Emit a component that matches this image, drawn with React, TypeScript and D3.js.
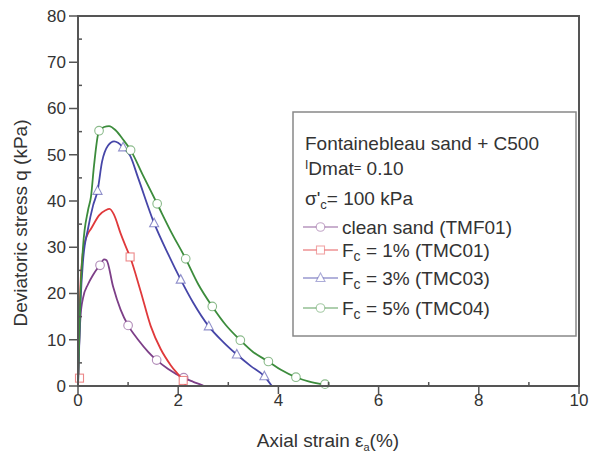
import React from "react";
import * as d3 from "d3";

// ---- data ----
const xTicks = [0, 2, 4, 6, 8, 10];
const xMinor = [1, 3, 5, 7, 9];
const yTicks = [0, 10, 20, 30, 40, 50, 60, 70, 80];
const yMinor = [5, 15, 25, 35, 45, 55, 65, 75];

const cleanSand: [number, number][] = [
  [0, 0], [0.02, 8], [0.05, 15], [0.1, 19], [0.2, 22], [0.3, 24], [0.44, 26.2],
  [0.52, 27.4], [0.57, 27.2], [0.7, 21.5], [0.85, 16.5], [1.0, 13.1], [1.2, 10],
  [1.4, 7.4], [1.57, 5.6], [1.8, 3.7], [2.1, 1.8], [2.3, 0.9], [2.5, 0.1],
];
const cleanSandMarks: [number, number][] = [[0.44, 26.1], [1.0, 13.1], [1.57, 5.6], [2.11, 1.8]];

const fc1: [number, number][] = [
  [0, 0], [0.02, 12], [0.05, 22], [0.1, 29], [0.2, 33], [0.26, 34], [0.42, 36.9],
  [0.55, 38], [0.63, 38.3], [0.72, 37], [0.85, 33], [0.94, 30.5], [1.04, 27.9],
  [1.25, 20.5], [1.45, 13], [1.65, 8], [1.85, 4.5], [2.05, 1.8], [2.15, 0.3],
];
const fc1Marks: [number, number][] = [[0.03, 1.7], [1.04, 27.9], [2.1, 1.2]];

const fc3: [number, number][] = [
  [0, 0], [0.05, 18], [0.1, 27], [0.2, 34], [0.3, 39], [0.39, 42.2], [0.48, 48.5],
  [0.6, 52], [0.72, 52.9], [0.8, 52.6], [0.9, 51.6], [1.04, 49.8], [1.2, 45],
  [1.52, 35.2], [1.8, 28.5], [2.05, 23], [2.3, 18], [2.61, 12.9], [2.9, 9.5],
  [3.17, 6.8], [3.45, 4.3], [3.72, 2.1], [3.87, 0],
];
const fc3Marks: [number, number][] = [[0.39, 42.2], [0.9, 51.6], [1.52, 35.2], [2.05, 23], [2.61, 12.9], [3.17, 6.8], [3.72, 2.1]];

const fc5: [number, number][] = [
  [0, 0], [0.05, 20], [0.1, 30], [0.2, 38], [0.26, 41], [0.32, 47.7], [0.42, 55.2],
  [0.52, 56], [0.62, 56.2], [0.75, 55.3], [0.9, 53.3], [1.05, 51], [1.3, 45.5],
  [1.58, 39.4], [1.85, 33.5], [2.15, 27.5], [2.4, 22], [2.68, 17.2], [2.95, 13.2],
  [3.24, 9.9], [3.5, 7.3], [3.8, 5.3], [4.05, 3.5], [4.35, 1.9], [4.6, 1.0], [4.9, 0.3],
];
const fc5Marks: [number, number][] = [[0.42, 55.2], [1.05, 51], [1.58, 39.4], [2.15, 27.5], [2.68, 17.2], [3.24, 9.9], [3.8, 5.3], [4.35, 1.9], [4.93, 0.4]];

const seriesNames = ["clean sand (TMF01)", "1% (TMC01)", "3% (TMC03)", "5% (TMC04)"];

type Series = { name: string; data: [number, number][]; marks: [number, number][]; color: string; marker: string; fc: boolean };
const series: Series[] = [
  { name: seriesNames[0], data: cleanSand, marks: cleanSandMarks, color: "#7d3f88", marker: "circle", fc: false },
  { name: seriesNames[1], data: fc1, marks: fc1Marks, color: "#e0393b", marker: "square", fc: true },
  { name: seriesNames[2], data: fc3, marks: fc3Marks, color: "#4646a8", marker: "triangle", fc: true },
  { name: seriesNames[3], data: fc5, marks: fc5Marks, color: "#3c8c3c", marker: "circle", fc: true },
];

const FONT = "'Liberation Sans', Arial, sans-serif";

function Marker({ type, cx, cy, color, op = 0.6 }: { type: string; cx: number; cy: number; color: string; op?: number }) {
  const common = { fill: "#fff", stroke: color, strokeWidth: 1.1, strokeOpacity: op };
  if (type === "square") return <rect x={cx - 4} y={cy - 4} width={8} height={8} {...common} />;
  if (type === "triangle") return <path d={`M${cx},${cy - 5}L${cx + 4.5},${cy + 3.5}L${cx - 4.5},${cy + 3.5}Z`} {...common} />;
  return <circle cx={cx} cy={cy} r={4.3} {...common} />;
}

export default function App() {
  const x = d3.scaleLinear().domain([0, 10]).range([78, 579]);
  const y = d3.scaleLinear().domain([0, 80]).range([386, 16]);
  const line = d3.line<[number, number]>().x((d) => x(d[0])).y((d) => y(d[1])).curve(d3.curveMonotoneX);
  const axisColor = "#555";

  const legendRows = [234, 257, 285, 315];

  return (
    <svg width={590} height={455} style={{ position: "absolute", left: 0, top: 0, background: "#fff" }} fontFamily={FONT}>
      <rect x={0} y={0} width={590} height={455} fill="#fff" />
      {/* curves */}
      {series.map((s) => (
        <g key={s.name}>
          <path d={line(s.data) || ""} fill="none" stroke={s.color} strokeWidth={1.8} />
          {s.marks.map((m, i) => (
            <Marker key={i} type={s.marker} cx={x(m[0])} cy={y(m[1])} color={s.color} />
          ))}
        </g>
      ))}
      {/* frame */}
      <rect x={x(0)} y={y(80)} width={x(10) - x(0)} height={y(0) - y(80)} fill="none" stroke={axisColor} strokeWidth={2} />
      {/* y ticks */}
      {yTicks.map((t) => (
        <g key={"y" + t}>
          <line x1={x(0) - 9} x2={x(0)} y1={y(t)} y2={y(t)} stroke={axisColor} strokeWidth={1.5} />
          <text x={x(0) - 12} y={y(t)} dy="0.35em" textAnchor="end" fontSize={17} fill="#333">{t}</text>
        </g>
      ))}
      {yMinor.map((t) => (
        <line key={"ym" + t} x1={x(0)} x2={x(0) + 4} y1={y(t)} y2={y(t)} stroke={axisColor} strokeWidth={1.5} />
      ))}
      {/* x ticks */}
      {xTicks.map((t) => (
        <g key={"x" + t}>
          <line x1={x(t)} x2={x(t)} y1={y(0)} y2={y(0) + 8} stroke={axisColor} strokeWidth={1.5} />
          <text x={x(t)} y={y(0) + 20} textAnchor="middle" fontSize={17} fill="#333">{t}</text>
        </g>
      ))}
      {xMinor.map((t) => (
        <line key={"xm" + t} x1={x(t)} x2={x(t)} y1={y(0)} y2={y(0) - 4} stroke={axisColor} strokeWidth={1.5} />
      ))}
      {/* axis titles */}
      <text x={328} y={447} textAnchor="middle" fontSize={19} fill="#333">
        Axial strain ε<tspan fontSize={11} dy={4}>a</tspan><tspan dy={-4}>(%)</tspan>
      </text>
      <text transform={`translate(27,223) rotate(-90)`} textAnchor="middle" fontSize={19} fill="#333">
        Deviatoric stress q (kPa)
      </text>
      {/* legend */}
      <rect x={293} y={112} width={283} height={224} fill="#fff" stroke="#888" strokeWidth={1.5} />
      <text x={305} y={150} fontSize={19} fill="#333">Fontainebleau sand + C500</text>
      <text x={305} y={175} fontSize={19} fill="#333">
        <tspan fontSize={12} dy={-6}>I</tspan><tspan dy={6}>Dmat</tspan><tspan fontSize={13} dy={-3}>=</tspan><tspan dy={3}> 0.10</tspan>
      </text>
      <text x={305} y={205} fontSize={19} fill="#333">
        σ'<tspan fontSize={13} dy={4}>c</tspan><tspan dy={-4}>= 100 kPa</tspan>
      </text>
      {series.map((s, i) => {
        const cy = legendRows[i] - 7;
        return (
          <g key={"lg" + i}>
            <line x1={303} x2={338} y1={cy} y2={cy} stroke={s.color} strokeWidth={1.5} strokeOpacity={0.55} />
            <Marker type={s.marker} cx={320.5} cy={cy} color={s.color} op={0.45} />
            {s.fc ? (
              <text x={342} y={legendRows[i]} fontSize={19} fill="#333">
                F<tspan fontSize={14} dy={4}>c</tspan><tspan dy={-4}> = {s.name}</tspan>
              </text>
            ) : (
              <text x={342} y={legendRows[i]} fontSize={19} fill="#333">{s.name}</text>
            )}
          </g>
        );
      })}
    </svg>
  );
}
